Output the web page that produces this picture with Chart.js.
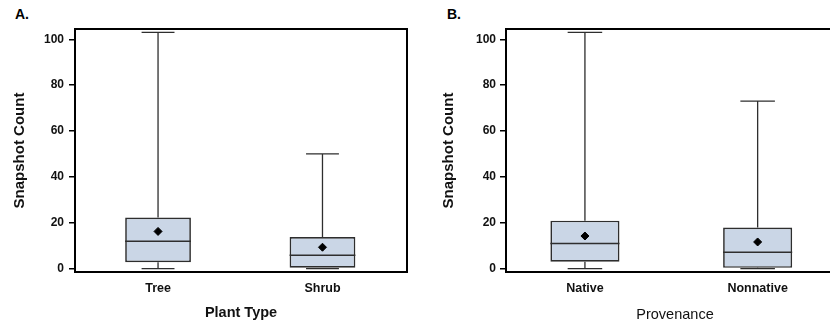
<!DOCTYPE html>
<html><head><meta charset="utf-8">
<script src="https://cdn.jsdelivr.net/npm/chart.js@4"></script>
<style>
html,body{margin:0;padding:0;background:#fff;overflow:hidden;width:830px;height:325px;position:relative;}
.panel{position:absolute;top:0;height:325px;}
#pa{left:0;width:415px}
#pb{left:420px;width:440px}
.lbl{position:absolute;top:6px;line-height:16px;font:bold 14px "Liberation Sans",Arial,sans-serif;color:#000;}
</style></head><body>
<div class="lbl" style="left:15px">A.</div>
<div class="lbl" style="left:447px">B.</div>
<div class="panel" id="pa"><canvas id="ca" width="415" height="325" style="width:415px;height:325px"></canvas></div>
<div class="panel" id="pb"><canvas id="cb" width="440" height="325" style="width:440px;height:325px"></canvas></div>
<script>
// ---- Data ----
const yTicks = [0, 20, 40, 60, 80, 100];

const plantTypes = ['Tree', 'Shrub'];
const plantLow    = [0, 0];
const plantQ1     = [2.8, 0];
const plantMedian = [11.9, 5.8];
const plantQ3     = [22.3, 13.8];
const plantHigh   = [103, 50];
const plantMean   = [16.2, 9.3];

const provenance = ['Native', 'Nonnative'];
const provLow    = [0, 0];
const provQ1     = [3.0, 0.3];
const provMedian = [10.9, 7.1];
const provQ3     = [20.9, 17.9];
const provHigh   = [103, 73];
const provMean   = [14.2, 11.6];

const FONT = '"Liberation Sans", Arial, Helvetica, sans-serif';
const BOX_FILL = '#cad6e6';
const LINE = '#2e2e2e';

function boxPlugin(st) {
  return {
    id: 'boxExtras',
    beforeDatasetsDraw(chart) {
      const meta = chart.getDatasetMeta(0);
      const y = chart.scales.y; const ctx = chart.ctx;
      ctx.save();
      ctx.strokeStyle = LINE; ctx.lineWidth = 1.3;
      meta.data.forEach((bar, i) => {
        const x = bar.x, hw = bar.width / 4;
        const yl = y.getPixelForValue(st.low[i]), yh = y.getPixelForValue(st.high[i]);
        const y1 = y.getPixelForValue(st.q1[i]), y3 = y.getPixelForValue(st.q3[i]);
        ctx.beginPath();
        ctx.moveTo(x, y3); ctx.lineTo(x, yh);
        ctx.moveTo(x, y1); ctx.lineTo(x, yl);
        ctx.moveTo(x - hw, yh); ctx.lineTo(x + hw, yh);
        ctx.moveTo(x - hw, yl); ctx.lineTo(x + hw, yl);
        ctx.stroke();
      });
      ctx.restore();
    },
    afterDatasetDraw(chart, args) {
      if (args.index !== 0) return;
      const meta = chart.getDatasetMeta(0);
      const y = chart.scales.y; const ctx = chart.ctx;
      ctx.save();
      ctx.strokeStyle = LINE; ctx.lineWidth = 1.6;
      meta.data.forEach((bar, i) => {
        const ym = y.getPixelForValue(st.median[i]);
        ctx.beginPath();
        ctx.moveTo(bar.x - bar.width / 2, ym); ctx.lineTo(bar.x + bar.width / 2, ym);
        ctx.stroke();
      });
      ctx.restore();
    },
    afterDatasetsDraw(chart) {
      const a = chart.chartArea; const ctx = chart.ctx;
      ctx.save();
      ctx.strokeStyle = '#000'; ctx.lineWidth = 2;
      ctx.strokeRect(a.left, a.top, a.right - a.left, a.bottom - a.top);
      ctx.restore();
    }
  };
}

function makeChart(id, cats, st, opt) {
  return new Chart(document.getElementById(id), {
    type: 'bar',
    data: {
      datasets: [
        {
          type: 'bar', order: 2,
          data: cats.map((c, i) => ({ x: i, y: [st.q1[i], st.q3[i]] })),
          backgroundColor: BOX_FILL, borderColor: LINE, borderWidth: 1.7,
          borderSkipped: false, barPercentage: 0.4, categoryPercentage: 1
        },
        {
          type: 'scatter', order: 1,
          data: cats.map((c, i) => ({ x: i, y: st.mean[i] })),
          pointStyle: 'rectRot', pointRadius: 4, pointBackgroundColor: '#000',
          pointBorderColor: '#000', pointBorderWidth: 1
        }
      ]
    },
    options: {
      responsive: false, animation: false,
      layout: { padding: { left: 0, top: 29, right: opt.padRight, bottom: 0 } },
      plugins: { legend: { display: false }, tooltip: { enabled: false } },
      scales: {
        x: {
          type: 'linear', min: opt.xMin, max: opt.xMax, offset: false,
          grid: { display: false, drawTicks: false, tickLength: 0, offset: false },
          border: { display: false },
          afterBuildTicks: s => { s.ticks = cats.map((c, i) => ({ value: i })); },
          afterFit: s => { s.height = 53; },
          ticks: {
            padding: 9, color: '#111', maxRotation: 0, autoSkip: false,
            font: { family: FONT, size: 12.5, weight: 'bold' },
            callback: (v, i) => cats[i]
          },
          title: {
            display: true, text: opt.xTitle, color: '#111',
            font: { family: FONT, size: 14.5, weight: opt.xTitleWeight },
            padding: { top: 0, bottom: opt.xTitlePadBottom }
          }
        },
        y: {
          type: 'linear', min: -1.5, max: 104.5,
          afterBuildTicks: s => { s.ticks = yTicks.map(v => ({ value: v })); },
          afterFit: s => { s.width = opt.yWidth; },
          grid: { display: true, drawOnChartArea: false, drawTicks: true, tickLength: 6, color: '#000', lineWidth: 1.5 },
          border: { display: false },
          ticks: {
            padding: opt.yTickPad, color: '#111',
            font: { family: FONT, size: 12, weight: 'bold' }
          },
          title: {
            display: true, text: 'Snapshot Count', color: '#111',
            font: { family: FONT, size: 15, weight: 'bold' },
            padding: { top: opt.yTitlePadTop, bottom: 0 }
          }
        }
      }
    },
    plugins: [boxPlugin(st)]
  });
}

makeChart('ca', plantTypes,
  { low: plantLow, q1: plantQ1, median: plantMedian, q3: plantQ3, high: plantHigh, mean: plantMean },
  { xMin: -0.505, xMax: 1.514, padRight: 8, yWidth: 75, yTickPad: 5, yTitlePadTop: 11,
    xTitle: 'Plant Type', xTitleWeight: 'bold', xTitlePadBottom: 3.5 });

makeChart('cb', provenance,
  { low: provLow, q1: provQ1, median: provMedian, q3: provQ3, high: provHigh, mean: provMean },
  { xMin: -0.457, xMax: 1.5, padRight: 16, yWidth: 86, yTickPad: 4, yTitlePadTop: 20,
    xTitle: 'Provenance', xTitleWeight: 'normal', xTitlePadBottom: 1.5 });
</script>
</body></html>
